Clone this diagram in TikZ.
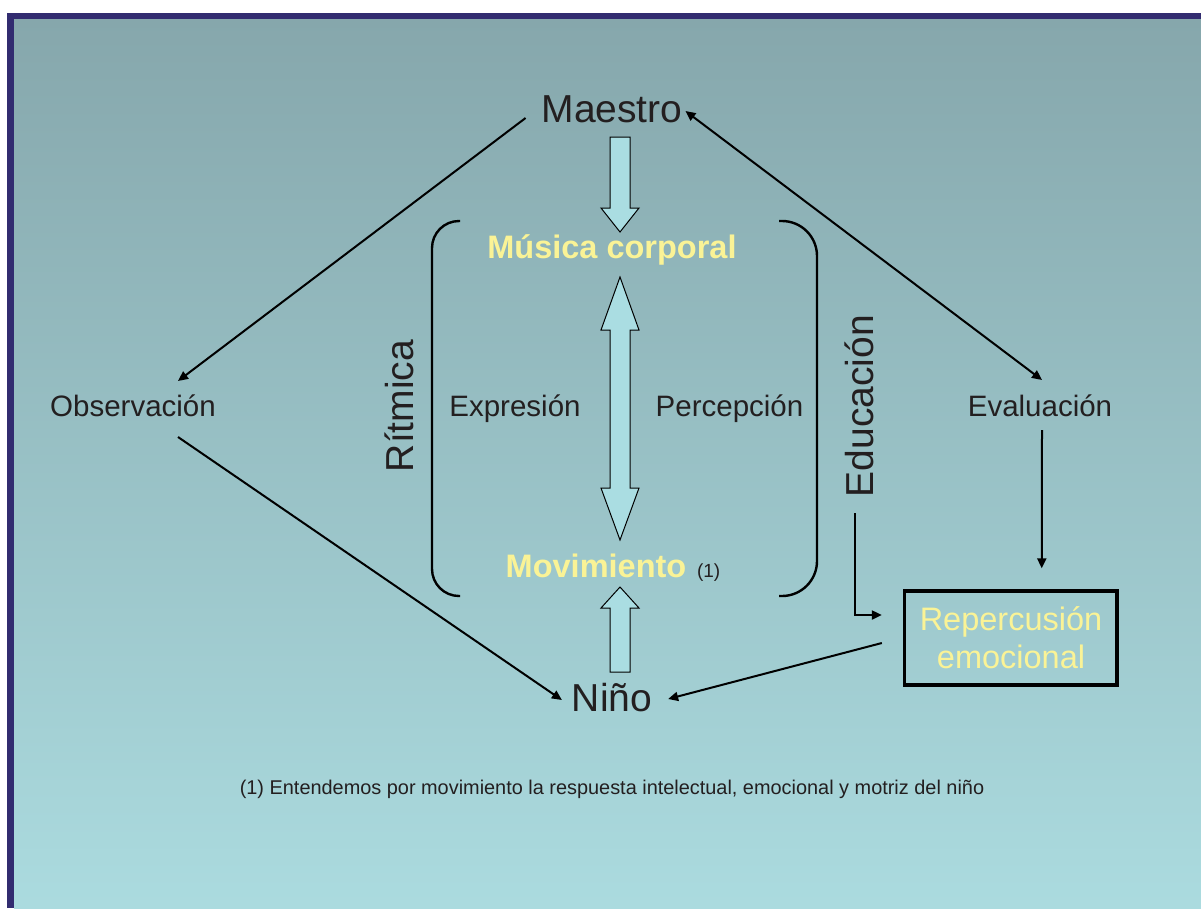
\documentclass[tikz,border=0pt]{standalone}
\usepackage{fontspec}
\setmainfont{Liberation Sans}
\usetikzlibrary{arrows.meta,calc}
\definecolor{bgtop}{RGB}{134,167,172}
\definecolor{bgbot}{RGB}{171,219,223}
\definecolor{framecol}{RGB}{50,44,112}
\definecolor{ink}{RGB}{35,31,32}
\definecolor{gold}{RGB}{250,243,150}
\definecolor{pale}{RGB}{170,221,226}
\begin{document}
\begin{tikzpicture}[x=1pt,y=-1pt,
  lbl/.style={inner sep=0pt, outer sep=0pt, anchor=base, text=ink},
  big/.style={lbl, font=\fontsize{39}{45}\selectfont},
  mid/.style={lbl, font=\fontsize{29.5}{34}\selectfont},
  hot/.style={inner sep=0pt, outer sep=0pt, anchor=base, text=gold, font=\fontsize{32.5}{38}\selectfont\bfseries},
  soft/.style={inner sep=0pt, outer sep=0pt, anchor=base, text=gold, font=\fontsize{32.5}{38}\selectfont},
  link/.style={draw=black, line width=2pt, -{Triangle[length=10pt,width=9pt]}},
  duallink/.style={draw=black, line width=2pt, {Triangle[length=10pt,width=9pt]}-{Triangle[length=10pt,width=9pt]}},
  fat/.style={draw=black, line width=1pt, fill=pale, line join=miter},
  bracket/.style={draw=black, line width=2.4pt},
  framebox/.style={draw=black, line width=3.3pt, inner sep=0pt, minimum width=212.5pt, minimum height=94pt}
]
\useasboundingbox (0,0) rectangle (1201,908);
\fill[white] (0,0) rectangle (1201,908);
\shade[top color=bgtop, bottom color=bgbot] (14,19) rectangle (1201,908);
\fill[framecol] (7,13) rectangle (1201,19);
\fill[framecol] (7,13) rectangle (14,908);

% texts
\node[big] (maestro) at (612,122) {Maestro};
\node[mid] (obs) at (133,416) {Observación};
\node[mid] (eval) at (1040,416) {Evaluación};
\node[mid] (expr) at (515,416) {Expresión};
\node[mid] (perc) at (729.5,416) {Percepción};
\node[hot] (musica) at (612,258) {Música corporal};
\node[hot] (mov) at (596,577) {Movimiento};
\node[lbl, anchor=base west, font=\fontsize{19}{22}\selectfont] (nota) at (697,577) {(1)};
\node[big] (nino) at (612,711) {Niño};
\node[big, rotate=90] (ritmica) at (413,406) {Rítmica};
\node[big, rotate=90] (educ) at (873,406) {Educación};
\node[framebox] (rep) at (1010.75,638) {};
\node[soft] (rep1) at (1011,630) {Repercusión};
\node[soft] (rep2) at (1011,668) {emocional};
\node[lbl, font=\fontsize{19.9}{24}\selectfont] (foot) at (612,794) {(1) Entendemos por movimiento la respuesta intelectual, emocional y motriz del niño};

% brackets
\draw[bracket, rounded corners=27pt] (460,221) -- (432,221) -- (432,596) -- (460,596);
\draw[bracket, rounded corners=35pt] (779,221) -- (817,221) -- (817,596) -- (779,596);

% block arrows
\draw[fat] (610,137) -- (630,137) -- (630,208) -- (639,208) -- (620,232) -- (601,208) -- (610,208) -- cycle;
\draw[fat] (620,277) -- (639,330) -- (630,330) -- (630,488) -- (639,488) -- (620,540) -- (601,488) -- (610,488) -- (610,330) -- (601,330) -- cycle;
\draw[fat] (610,672) -- (610,608) -- (601,608) -- (620,587) -- (639,608) -- (630,608) -- (630,672) -- cycle;

% connectors
\draw[link] ([shift={(-16,-4)}]maestro.base west) -- ([shift={(45,-35)}]obs.base);
\draw[duallink] ([shift={(2,-36)}]eval.base) -- ([shift={(3,-11)}]maestro.base east);
\draw[link] ([shift={(45,21)}]obs.base) -- ([shift={(-10,-11)}]nino.base west);
\draw[link] ([shift={(2,14)}]eval.base) -- ([shift={(31,-21)}]rep.north);
\draw[link] ([shift={(-18,16)}]educ.base west) |- ([shift={(-21,-23)}]rep.west);
\draw[link] ([shift={(-21,5)}]rep.west) -- ([shift={(16,-12)}]nino.base east);
\end{tikzpicture}
\end{document}
